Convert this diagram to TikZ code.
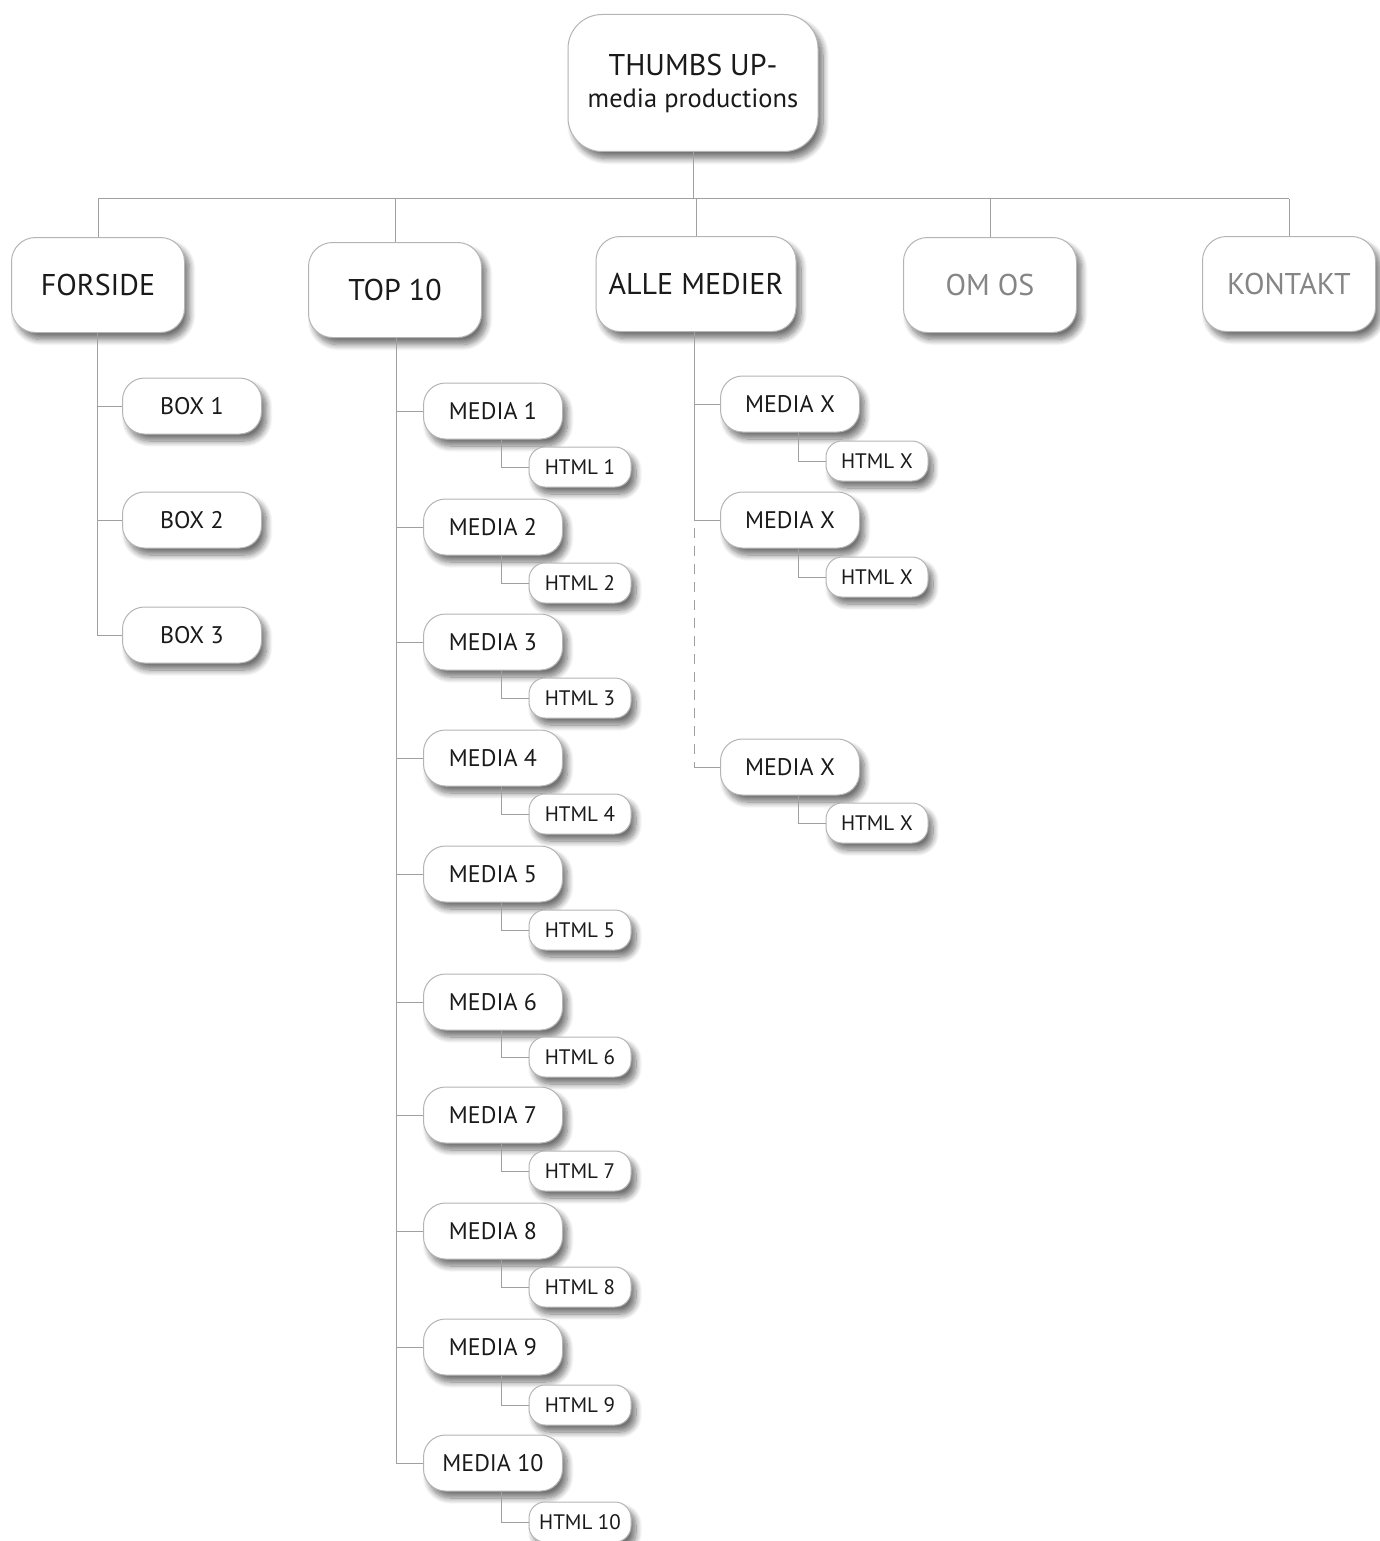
\documentclass[tikz,border=0pt]{standalone}
\usepackage{fontspec}
\setmainfont{PT Sans}
\usetikzlibrary{shadows.blur}
\definecolor{linec}{HTML}{A0A0A0}
\definecolor{boxline}{HTML}{B4B4B4}
\definecolor{greytext}{HTML}{858585}
\definecolor{maintext}{HTML}{1A1A1A}
\tikzset{
  boxbase/.style={draw=boxline, line width=1pt, fill=white, inner sep=0pt, align=center, text=maintext,
    blur shadow={shadow xshift=5pt, shadow yshift=-7pt, shadow blur steps=10, shadow blur radius=6pt, shadow opacity=55}},
  rootbox/.style={boxbase, minimum width=250, minimum height=137, rounded corners=34, font=\fontsize{30}{32}\selectfont},
  topbox/.style={boxbase, minimum width=173, minimum height=95, rounded corners=24, font=\fontsize{30}{34}\selectfont},
  subbox/.style={boxbase, minimum width=139, minimum height=56, rounded corners=22, font=\fontsize{24}{28}\selectfont},
  htmlbox/.style={boxbase, minimum width=102, minimum height=40, rounded corners=16, font=\fontsize{21}{24}\selectfont},
  conn/.style={draw=linec, line width=1pt},
}
\begin{document}
\begin{tikzpicture}[x=1pt, y=-1pt]
\useasboundingbox (0,0) rectangle (1379,1541);
% root
\node[rootbox] (root) at (693,83) {THUMBS UP-\\{\fontsize{26.5}{32}\selectfont media productions}};
% top level
\node[topbox] (forside) at (98,285) {FORSIDE};
\node[topbox] (top10) at (395,290) {TOP 10};
\node[topbox, minimum width=200] (alle) at (696,284) {ALLE MEDIER};
\node[topbox, text=greytext] (omos) at (990,285) {OM OS};
\node[topbox, text=greytext] (kontakt) at (1289,284) {KONTAKT};
\coordinate (bus) at (0,199);
\draw[conn] (root.south) -- (root.south |- bus);
\draw[conn] (forside.north |- bus) -- (kontakt.north |- bus);
\foreach \n in {forside,top10,alle,omos,kontakt}{
  \draw[conn] (\n.north) -- (\n.north |- bus);
}
% forside children
\node[subbox] (box1) at (192,406) {BOX 1};
\node[subbox] (box2) at (192,520) {BOX 2};
\node[subbox] (box3) at (192,635) {BOX 3};
\foreach \b in {box1,box2,box3}{
  \draw[conn] ([xshift=-1]forside.south) |- (\b.west);
}
% top 10 children
\foreach \i/\my/\hy in {1/411/467, 2/527/583, 3/642/698, 4/758/814, 5/874/930, 6/1002/1057, 7/1115/1171, 8/1231/1287, 9/1347/1405, 10/1463/1522}{
  \node[subbox] (media\i) at (493,\my) {MEDIA \i};
  \node[htmlbox] (html\i) at (580,\hy) {HTML \i};
  \draw[conn] ([xshift=1]top10.south) |- (media\i.west);
  \draw[conn] ([xshift=8]media\i.south) |- (html\i.west);
}
% alle medier children
\node[subbox] (mx1) at (790,404) {MEDIA X};
\node[htmlbox] (hx1) at (877,461) {HTML X};
\node[subbox] (mx2) at (790,520) {MEDIA X};
\node[htmlbox] (hx2) at (877,577) {HTML X};
\node[subbox] (mx3) at (790,767) {MEDIA X};
\node[htmlbox] (hx3) at (877,823) {HTML X};
\draw[conn] ([xshift=-2]alle.south) |- (mx1.west);
\draw[conn] ([xshift=-2]alle.south) |- (mx2.west);
\coordinate (dstart) at ([xshift=-2]alle.south |- mx2.west);
\coordinate (dend) at ([xshift=-2]alle.south |- mx3.west);
\draw[conn, dash pattern=on 10pt off 8pt] ([yshift=10]dstart) -- (dend);
\draw[conn] (dend) -- (mx3.west);
\foreach \m/\h in {mx1/hx1, mx2/hx2, mx3/hx3}{
  \draw[conn] ([xshift=8]\m.south) |- (\h.west);
}
\end{tikzpicture}
\end{document}
